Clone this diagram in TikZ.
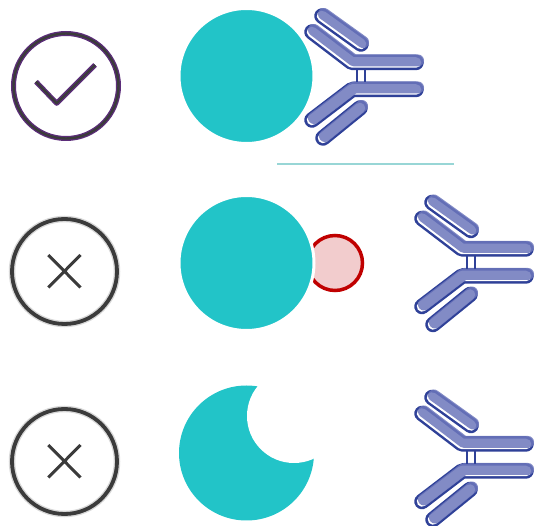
\documentclass[tikz,border=0pt]{standalone}
\usepackage{xcolor}
\definecolor{cell}{HTML}{22C4C8}
\definecolor{abdark}{HTML}{2F4198}
\definecolor{ablight}{HTML}{6D77BC}
\definecolor{ringpurple}{HTML}{5C2D7A}
\definecolor{ringgray}{HTML}{3B3B3B}
\definecolor{haze}{HTML}{D8D8D8}
\definecolor{blockred}{HTML}{C00000}
\definecolor{blockpink}{HTML}{F2CCCD}
\definecolor{divider}{HTML}{98D6D6}

\tikzset{
  chainout/.style={abdark, line width=15.5pt, line cap=round, line join=round},
  chainin/.style={white, line width=10.5pt, line cap=round, line join=round},
  chainfill/.style={ablight, opacity=.85, line width=12pt, line cap=round, line join=round},
  % Y-shaped antibody: two heavy chains, two light chains, hinge bonds
  antibody/.pic={
    \foreach \layer in {chainout,chainin}{
      \draw[\layer] (-40,-44) -- (0,-13.5) -- (64,-13.5);
      \draw[\layer] (-40,44) -- (0,13.5) -- (64,13.5);
      \draw[\layer] (-30,-60) -- (9,-32);
      \draw[\layer] (-29,62) -- (8,32);
    }
    \begin{scope}[shift={(2,-2)}]
      \draw[chainfill] (-40,-44) -- (0,-13.5) -- (64,-13.5);
      \draw[chainfill] (-40,44) -- (0,13.5) -- (64,13.5);
      \draw[chainfill] (-30,-60) -- (9,-32);
      \draw[chainfill] (-29,62) -- (8,32);
    \end{scope}
    \draw[abdark, line width=1.8pt] (5,-6.5) -- (5,6.5) (13,-6.5) -- (13,6.5);
  },
  okring/.style={ringpurple, line width=5pt},
  okcore/.style={ringgray, line width=2.4pt},
  noring/.style={haze, line width=6.5pt},
  nocore/.style={ringgray, line width=3.8pt},
  xmark/.style={ringgray, line width=3pt},
  cellbody/.style={fill=cell, draw=white, line width=3pt},
}

\begin{document}
\begin{tikzpicture}[x=1pt,y=-1pt]
\useasboundingbox (0,0) rectangle (536,526);

% ---- row 1: antibody binds the cell ----
\coordinate (okc) at (66,86);
\draw[okring] (okc) circle[radius=52.5];
\draw[okcore] (okc) circle[radius=52.5];
\draw[okring, line join=round] (36,81.7) -- (56.7,103.3) -- (95,65);
\draw[okcore, line join=round] (36,81.7) -- (56.7,103.3) -- (95,65);

\path[cellbody] (246.5,76) circle[radius=67.5];
\pic at (352,76) {antibody};

% separator
\draw[divider, line width=1.3pt] (277,164) -- (454,164);

% ---- row 2: binding site blocked ----
\coordinate (noc1) at (64.5,271.5);
\draw[noring] (noc1) circle[radius=52.5];
\draw[nocore] (noc1) circle[radius=52.5];
\draw[xmark] (48.3,255) -- (80.5,287.5) (80.5,255) -- (48.3,287.5);

\draw[blockred, fill=blockpink, line width=3.5pt] (335,263) circle[radius=27.5];
\path[cellbody] (246.5,263) circle[radius=67.5];
\pic at (462,262.5) {antibody};

% ---- row 3: binding site missing ----
\coordinate (noc2) at (64.5,461.5);
\draw[noring] (noc2) circle[radius=52.5];
\draw[nocore] (noc2) circle[radius=52.5];
\draw[xmark] (48.3,445) -- (80.5,477.5) (80.5,445) -- (48.3,477.5);

\fill[cell] (246.5,453) circle[radius=67.5];
\fill[white] (294,416) circle[radius=47];
\pic at (462,457.5) {antibody};

\end{tikzpicture}
\end{document}
